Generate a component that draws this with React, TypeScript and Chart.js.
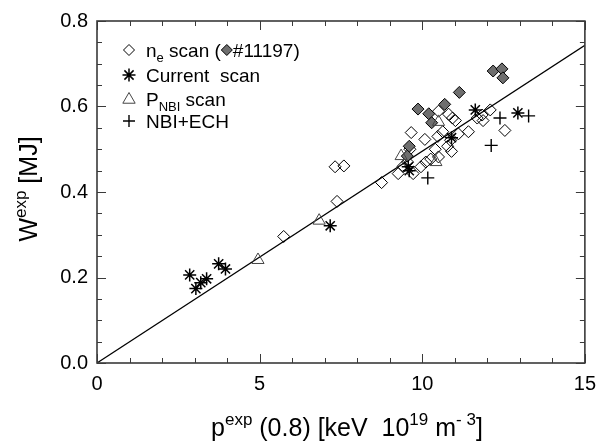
import React, { useEffect, useRef } from 'react';
import { Chart, registerables } from 'chart.js';
Chart.register(...registerables);

// ---- data ----
const neX = [5.74, 7.38, 7.32, 7.59, 8.75, 9.66, 10.08, 10.48, 10.5, 10.81, 10.93, 11.02, 10.63, 11.11, 11.42, 10.87, 10.78, 10.9, 11.84, 12.09, 11.87, 11.69, 12.54, 9.26, 9.41, 9.72, 9.96, 10.11, 10.26, 10.5, 9.55, 9.62, 10.4];
const neY = [0.296, 0.378, 0.459, 0.461, 0.422, 0.539, 0.523, 0.530, 0.589, 0.582, 0.573, 0.567, 0.541, 0.536, 0.541, 0.521, 0.507, 0.495, 0.580, 0.592, 0.567, 0.573, 0.544, 0.443, 0.460, 0.443, 0.459, 0.470, 0.477, 0.482, 0.470, 0.500, 0.500];
const shotX = [12.18, 12.45, 12.48, 11.14, 9.87, 10.69, 10.2, 10.29, 9.6, 9.54];
const shotY = [0.683, 0.688, 0.667, 0.633, 0.594, 0.605, 0.583, 0.562, 0.507, 0.484];
const curX = [2.85, 3.04, 3.19, 3.37, 3.74, 3.95, 7.17, 9.57, 9.6, 10.9, 11.63, 12.94];
const curY = [0.206, 0.174, 0.188, 0.197, 0.232, 0.220, 0.321, 0.459, 0.450, 0.527, 0.592, 0.585];
const pnbiX = [4.95, 6.83, 9.35, 10.5, 10.42];
const pnbiY = [0.241, 0.333, 0.484, 0.564, 0.470];
const echX = [10.17, 12.12, 12.39, 13.27];
const echY = [0.433, 0.509, 0.573, 0.578];
const fitX = [0, 15];
const fitY = [0, 0.743];

const X_MIN = 0, X_MAX = 15, X_MAJOR = 5, X_MINOR = 1;
const Y_MIN = 0, Y_MAX = 0.8, Y_MAJOR = 0.2, Y_MINOR = 0.05;

const FONT = '"Liberation Sans", Arial, Helvetica, sans-serif';
const AXIS_COLOR = '#3a3a3a';

type Seg = { t: string; s: number; dy?: number };

function segWidth(ctx: CanvasRenderingContext2D, segs: Seg[]) {
  let w = 0;
  for (const g of segs) { ctx.font = `${g.s}px ${FONT}`; w += ctx.measureText(g.t).width; }
  return w;
}
function drawSegs(ctx: CanvasRenderingContext2D, segs: Seg[], x: number, y: number) {
  let cx = x;
  ctx.textBaseline = 'alphabetic';
  ctx.textAlign = 'left';
  for (const g of segs) {
    ctx.font = `${g.s}px ${FONT}`;
    ctx.fillText(g.t, cx, y + (g.dy || 0));
    cx += ctx.measureText(g.t).width;
  }
  return cx;
}

function drawMarker(ctx: CanvasRenderingContext2D, kind: string, x: number, y: number, r: number, fill?: string) {
  ctx.save();
  ctx.strokeStyle = '#000';
  ctx.lineWidth = 1;
  ctx.beginPath();
  if (kind === 'diamond') {
    ctx.moveTo(x, y - r); ctx.lineTo(x + r, y); ctx.lineTo(x, y + r); ctx.lineTo(x - r, y); ctx.closePath();
    if (fill) { ctx.fillStyle = fill; ctx.fill(); }
    ctx.stroke();
  } else if (kind === 'star') {
    for (let i = 0; i < 4; i++) {
      const a = (i * Math.PI) / 4;
      ctx.moveTo(x + Math.cos(a) * r, y + Math.sin(a) * r);
      ctx.lineTo(x - Math.cos(a) * r, y - Math.sin(a) * r);
    }
    ctx.lineWidth = 1.5;
    ctx.stroke();
  } else if (kind === 'triangle') {
    ctx.strokeStyle = '#444';
    ctx.moveTo(x, y - r); ctx.lineTo(x + r * 0.95, y + r * 0.65); ctx.lineTo(x - r * 0.95, y + r * 0.65); ctx.closePath();
    ctx.stroke();
  } else if (kind === 'cross') {
    ctx.moveTo(x - r, y); ctx.lineTo(x + r, y); ctx.moveTo(x, y - r); ctx.lineTo(x, y + r);
    ctx.lineWidth = 1.4;
    ctx.stroke();
  }
  ctx.restore();
}

const overlay = {
  id: 'overlay',
  afterDraw(chart: any) {
    const ctx: CanvasRenderingContext2D = chart.ctx;
    const { left, right, top, bottom } = chart.chartArea;
    const xs = chart.scales.x, ys = chart.scales.y;
    ctx.save();
    ctx.strokeStyle = AXIS_COLOR;
    ctx.lineWidth = 1.6;
    ctx.strokeRect(left, top, right - left, bottom - top);
    ctx.lineWidth = 1;
    ctx.beginPath();
    const nx = Math.round((X_MAX - X_MIN) / X_MINOR);
    for (let i = 0; i <= nx; i++) {
      const v = X_MIN + i * X_MINOR;
      const px = Math.round(xs.getPixelForValue(v)) + 0.5;
      const len = Math.abs(v / X_MAJOR - Math.round(v / X_MAJOR)) < 1e-6 ? 9 : 5;
      ctx.moveTo(px, bottom); ctx.lineTo(px, bottom - len);
      ctx.moveTo(px, top); ctx.lineTo(px, top + len);
    }
    const ny = Math.round((Y_MAX - Y_MIN) / Y_MINOR);
    for (let i = 0; i <= ny; i++) {
      const v = Y_MIN + i * Y_MINOR;
      const py = Math.round(ys.getPixelForValue(v)) + 0.5;
      const len = Math.abs(v / Y_MAJOR - Math.round(v / Y_MAJOR)) < 1e-6 ? 9 : 5;
      ctx.moveTo(left, py); ctx.lineTo(left + len, py);
      ctx.moveTo(right, py); ctx.lineTo(right - len, py);
    }
    ctx.stroke();

    ctx.fillStyle = '#000';
    // x title
    const xSegs: Seg[] = [
      { t: 'p', s: 25 }, { t: 'exp', s: 17, dy: -11 }, { t: ' (0.8) [keV  10', s: 25 },
      { t: '19', s: 17, dy: -11 }, { t: ' m', s: 25 }, { t: '- 3', s: 17, dy: -11 }, { t: ']', s: 25 },
    ];
    const xw = segWidth(ctx, xSegs);
    drawSegs(ctx, xSegs, (left + right) / 2 - xw / 2 + 6, 436);
    // y title
    const ySegs: Seg[] = [{ t: 'W', s: 25 }, { t: 'exp', s: 17, dy: -11 }, { t: ' [MJ]', s: 25 }];
    const yw = segWidth(ctx, ySegs);
    ctx.save();
    ctx.translate(37, 189);
    ctx.rotate(-Math.PI / 2);
    drawSegs(ctx, ySegs, -yw / 2, 0);
    ctx.restore();

    // legend
    const lx = 129, tx = 146, fs = 19;
    const rows = [50, 75, 99, 121];
    drawMarker(ctx, 'diamond', lx, rows[0], 5.5);
    ctx.fillStyle = '#000';
    let cx = drawSegs(ctx, [{ t: 'n', s: fs }, { t: 'e', s: 13, dy: 5 }, { t: ' scan (', s: fs }], tx, rows[0] + 7);
    drawMarker(ctx, 'diamond', cx + 6, rows[0], 5.5, '#6e6e6e');
    ctx.fillStyle = '#000';
    drawSegs(ctx, [{ t: '#11197)', s: fs }], cx + 12, rows[0] + 7);

    drawMarker(ctx, 'star', lx, rows[1], 6.5);
    ctx.fillStyle = '#000';
    drawSegs(ctx, [{ t: 'Current  scan', s: fs }], tx, rows[1] + 7);

    drawMarker(ctx, 'triangle', lx, rows[2], 6.5);
    ctx.fillStyle = '#000';
    drawSegs(ctx, [{ t: 'P', s: fs }, { t: 'NBI', s: 13, dy: 5 }, { t: ' scan', s: fs }], tx, rows[2] + 7);

    drawMarker(ctx, 'cross', lx, rows[3], 6);
    ctx.fillStyle = '#000';
    drawSegs(ctx, [{ t: 'NBI+ECH', s: fs }], tx, rows[3] + 7);
    ctx.restore();
  },
};

const pts = (xs: number[], ys: number[]) => xs.map((x, i) => ({ x, y: ys[i] }));

export default function App() {
  const ref = useRef<HTMLCanvasElement>(null);
  useEffect(() => {
    if (!ref.current) return;
    const chart = new Chart(ref.current, {
      type: 'scatter',
      data: {
        datasets: [
          { label: 'fit', data: pts(fitX, fitY), showLine: true, borderColor: '#000', borderWidth: 1.2, pointRadius: 0, order: 5 } as any,
          { label: 'ne', data: pts(neX, neY), pointStyle: 'rectRot', pointRadius: 6, borderColor: '#000', borderWidth: 1, backgroundColor: 'rgba(0,0,0,0)', order: 4 },
          { label: '#11197', data: pts(shotX, shotY), pointStyle: 'rectRot', pointRadius: 6, borderColor: '#000', borderWidth: 1, backgroundColor: '#6e6e6e', order: 3 },
          { label: 'PNBI', data: pts(pnbiX, pnbiY), pointStyle: 'triangle', pointRadius: 7, borderColor: '#444', borderWidth: 1, backgroundColor: 'rgba(0,0,0,0)', order: 2 },
          { label: 'ECH', data: pts(echX, echY), pointStyle: 'cross', pointRadius: 6.5, borderColor: '#000', borderWidth: 1.4, order: 1 },
          { label: 'Current', data: pts(curX, curY), pointStyle: 'star', pointRadius: 6.5, borderColor: '#000', borderWidth: 1.5, order: 0 },
        ],
      },
      options: {
        animation: false,
        responsive: false,
        devicePixelRatio: 1,
        events: [],
        layout: { padding: { top: 14, right: 14, left: 0, bottom: 0 } },
        plugins: { legend: { display: false }, tooltip: { enabled: false } },
        scales: {
          x: {
            type: 'linear', min: X_MIN, max: X_MAX,
            ticks: { stepSize: X_MAJOR, color: '#000', padding: 9, font: { size: 20, family: FONT } },
            grid: { display: false, drawTicks: false },
            border: { display: false },
            afterFit: (s: any) => { s.height = 81; },
          },
          y: {
            type: 'linear', min: Y_MIN, max: Y_MAX,
            ticks: { stepSize: Y_MAJOR, color: '#000', padding: 9, font: { size: 20, family: FONT }, callback: (v: any) => Number(v).toFixed(1) },
            grid: { display: false, drawTicks: false },
            border: { display: false },
            afterFit: (s: any) => { s.width = 97; },
          },
        },
      },
      plugins: [overlay],
    } as any);
    return () => chart.destroy();
  }, []);
  return (
    <div style={{ position: 'absolute', left: 0, top: 0, width: 605, height: 444, background: '#fff' }}>
      <canvas ref={ref} width={605} height={444} style={{ display: 'block', width: 605, height: 444 }} />
    </div>
  );
}
